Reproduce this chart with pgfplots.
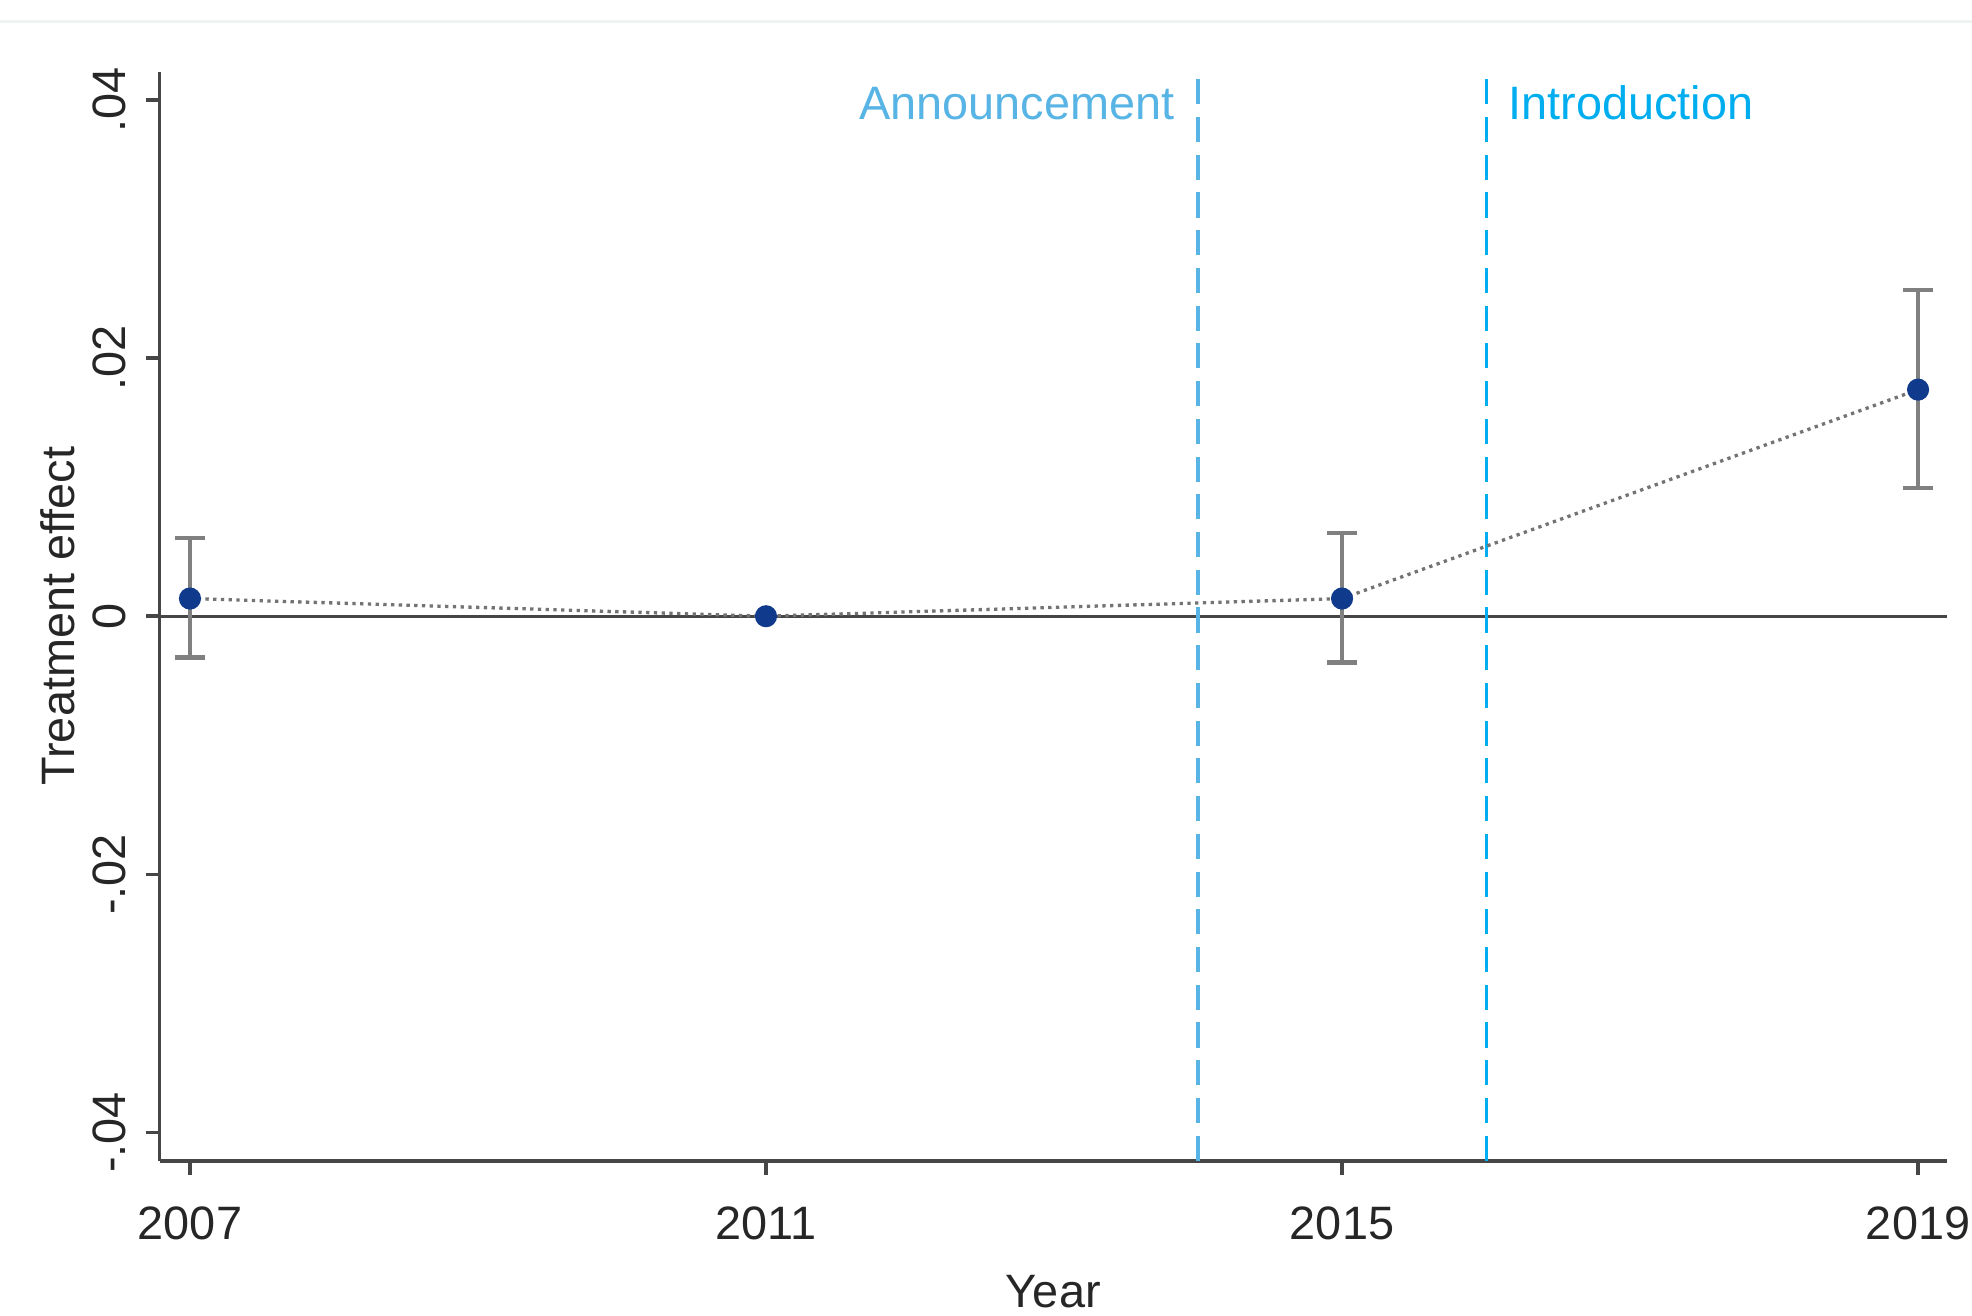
\documentclass[border=0pt]{standalone}
\usepackage{fontspec}
\setmainfont{Liberation Sans}
\usepackage{pgfplots}
\pgfplotsset{compat=1.18}

\definecolor{navypt}{RGB}{16,58,140}
\definecolor{cigray}{RGB}{128,128,128}
\definecolor{axgray}{RGB}{70,70,70}
\definecolor{anncol}{RGB}{88,180,228}
\definecolor{introcol}{RGB}{0,174,239}
\definecolor{frame}{RGB}{238,243,243}

\newcommand{\fs}{\fontsize{10.6}{12.7}\selectfont}

\begin{document}
\begin{tikzpicture}
\useasboundingbox (0,0) rectangle (15.68,10.46);
\draw[frame, line width=0.6pt] (0,10.29) -- (15.68,10.29);
\begin{axis}[
  at={(1.27cm,1.23cm)}, anchor=south west,
  scale only axis,
  width=14.21cm, height=8.66cm,
  xmin=2006.79, xmax=2019.2,
  ymin=-0.0422, ymax=0.0422,
  axis x line*=bottom, axis y line*=left,
  axis line style={axgray, line width=0.8pt},
  tick align=outside,
  major tick length=0.11cm,
  tick style={axgray, line width=0.8pt},
  scaled y ticks=false,
  xtick={2007,2011,2015,2019},
  xticklabels={2007,2011,2015,2019},
  ytick={-0.04,-0.02,0,0.02,0.04},
  yticklabels={-.04,-.02,0,.02,.04},
  xticklabel shift=0.25cm,
  yticklabel shift=0.15cm,
  xticklabel style={font=\fs, anchor=north, inner sep=0pt, text=black!85},
  yticklabel style={font=\fs, rotate=90, anchor=south, inner sep=0pt, text=black!85},
  xlabel={Year},
  ylabel={Treatment effect},
  xlabel style={font=\fs, at={(axis description cs:0.5,0)}, anchor=base, yshift=-1.17cm, text=black!85},
  ylabel style={font=\fs, at={(axis description cs:-0.0479,0.5)}, anchor=base, rotate=0, text=black!85},
  clip=false,
]
% zero line
\addplot[axgray, line width=0.6pt] coordinates {(2006.79,0) (2019.2,0)};
% event lines
\addplot[anncol, line width=0.7pt, dash pattern=on 0.2cm off 0.1cm] coordinates {(2014,-0.0422) (2014,0.0422)};
\addplot[introcol, line width=0.7pt, dash pattern=on 0.2cm off 0.1cm] coordinates {(2016,-0.0422) (2016,0.0422)};
\node[font=\fs, text=anncol, anchor=base east, inner sep=0pt, xshift=-0.18cm] at (axis cs:2014,0.0385) {Announcement};
\node[font=\fs, text=introcol, anchor=base west, inner sep=0pt, xshift=0.17cm] at (axis cs:2016,0.0385) {Introduction};
% confidence intervals
\addplot[draw=none, mark=none,
  error bars/.cd, y dir=both, y explicit,
  error bar style={cigray, line width=1.05pt},
  error mark options={rotate=90, mark size=0.12cm, line width=1.05pt, cigray}]
  coordinates {
  (2007,0.00137) -= (0,0.00459) += (0,0.00468)
  (2015,0.00137) -= (0,0.00498) += (0,0.00507)
  (2019,0.01756) -= (0,0.00761) += (0,0.00771)
};
% connecting line
\addplot[cigray!90!black, line width=0.75pt, densely dotted] coordinates {(2007,0.00137) (2011,0) (2015,0.00137) (2019,0.01756)};
% point estimates
\addplot[only marks, mark=*, mark size=2.3pt, navypt, mark options={fill=navypt, draw=navypt}]
  coordinates {(2007,0.00137) (2011,0) (2015,0.00137) (2019,0.01756)};
\end{axis}
\end{tikzpicture}
\end{document}
